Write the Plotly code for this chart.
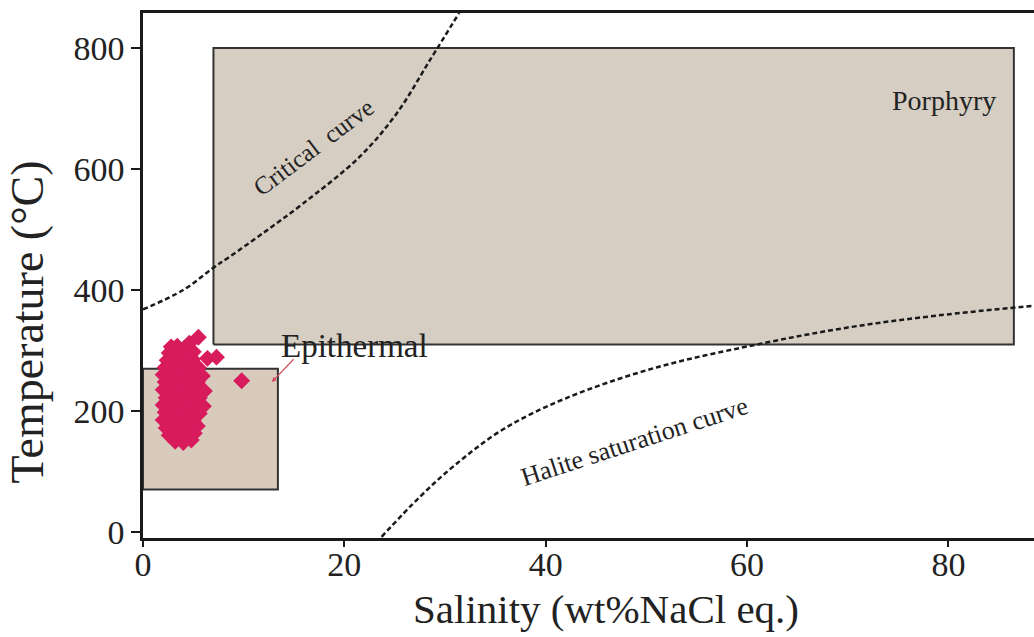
import plotly.graph_objects as go

# ---- data ----
porphyry_sal = [7.0, 86.5]
porphyry_temp = [310, 800]
epithermal_sal = [0.0, 13.4]
epithermal_temp = [70, 270]

critical_sal = [0, 4, 7, 8.6, 12, 15.9, 21.5, 25.2, 28.5, 31.4]
critical_temp = [368, 400, 437, 455, 495, 543, 620, 692, 780, 858]

halite_sal = [23.7, 27.5, 30.8, 35.7, 42.0, 51.0, 61.0, 70.0, 79.0, 88.5]
halite_temp = [-8, 58, 108, 169, 221, 272, 310, 338, 358, 374]

fi_sal = [3.2, 4.0, 4.8,
          2.6, 3.5, 4.3, 5.1,
          2.3, 3.0, 3.8, 4.6, 5.4,
          2.0, 2.8, 3.6, 4.4, 5.0,
          2.2, 3.0, 3.9, 4.7, 5.6,
          2.0, 2.7, 3.5, 4.3, 5.2, 6.0,
          2.3, 3.1, 3.9, 4.8, 5.6,
          2.0, 2.8, 3.6, 4.4, 5.3, 6.1,
          2.2, 3.0, 3.8, 4.6, 5.4,
          2.0, 2.7, 3.5, 4.3, 5.1, 5.9,
          2.2, 3.0, 3.8, 4.7, 5.5,
          2.4, 3.2, 4.0, 4.9, 6.4, 7.3,
          2.6, 3.4, 4.3, 5.0,
          2.8, 3.4, 4.2,
          4.6, 5.5,
          9.8]
fi_temp = [150, 148, 152,
           160, 162, 158, 163,
           172, 174, 170, 173, 175,
           185, 186, 184, 187, 183,
           198, 199, 197, 200, 196,
           210, 211, 209, 212, 210, 208,
           222, 223, 221, 224, 222,
           235, 236, 234, 237, 235, 233,
           248, 249, 247, 250, 248,
           260, 261, 259, 262, 260, 258,
           272, 273, 271, 274, 272,
           284, 285, 283, 286, 287, 289,
           296, 297, 295, 298,
           306, 307, 305,
           312, 322,
           250]

x_ticks = [0, 20, 40, 60, 80]
y_ticks = [0, 200, 400, 600, 800]

FONT = "Liberation Serif"

fig = go.Figure()


def box_trace(xs, ys, fill):
    return go.Scatter(
        x=[xs[0], xs[1], xs[1], xs[0], xs[0]],
        y=[ys[0], ys[0], ys[1], ys[1], ys[0]],
        mode="lines", fill="toself", fillcolor=fill,
        line=dict(color="#333333", width=2),
        hoverinfo="skip", showlegend=False)


fig.add_trace(box_trace(porphyry_sal, porphyry_temp, "#d6cec3"))
fig.add_trace(box_trace(epithermal_sal, epithermal_temp, "#d9cbbc"))

fig.add_trace(go.Scatter(x=critical_sal, y=critical_temp, mode="lines",
                         line=dict(color="#1a1a1a", width=2.5, dash="5px,3px", shape="spline"),
                         showlegend=False))
fig.add_trace(go.Scatter(x=halite_sal, y=halite_temp, mode="lines",
                         line=dict(color="#1a1a1a", width=2.5, dash="5px,3px", shape="spline"),
                         showlegend=False))

fig.add_trace(go.Scatter(x=fi_sal, y=fi_temp, mode="markers",
                         marker=dict(symbol="diamond", size=13, color="#d81b5c",
                                     line=dict(width=0)),
                         showlegend=False))

txt = dict(family=FONT, color="#222222")
fig.add_annotation(x=79.6, y=714, text="Porphyry", showarrow=False,
                   font=dict(size=28, **txt))
fig.add_annotation(x=16.9, y=636, text="Critical  curve", showarrow=False,
                   textangle=-37, font=dict(size=25, **txt))
fig.add_annotation(x=21.0, y=307, text="Epithermal", showarrow=False,
                   font=dict(size=33, **txt))
fig.add_annotation(x=48.8, y=150, text="Halite saturation curve", showarrow=False,
                   textangle=-18, font=dict(size=26, **txt))
fig.add_annotation(x=12.8, y=248, ax=15.1, ay=288, axref="x", ayref="y",
                   text="", showarrow=True, arrowhead=2, arrowsize=0.8,
                   arrowwidth=1.2, arrowcolor="#d04a5e")

# axis titles (placed as in the reference, slightly off-centre)
fig.add_annotation(xref="paper", yref="paper", x=0.5196, y=-0.136,
                   xanchor="center", yanchor="middle", showarrow=False,
                   text="Salinity (wt%NaCl eq.)", font=dict(size=41, **txt))
fig.add_annotation(xref="paper", yref="paper", x=-0.130, y=0.411,
                   xanchor="center", yanchor="middle", showarrow=False, textangle=-90,
                   text="Temperature (°C)", font=dict(size=46, **txt))

fig.update_layout(
    width=1034, height=637,
    margin=dict(l=143, r=0, t=13, b=99, autoexpand=False),
    paper_bgcolor="white", plot_bgcolor="white",
    font=dict(family=FONT, color="#222222"),
    showlegend=False,
)
fig.update_xaxes(range=[0, 88.5], tickvals=x_ticks, ticks="outside", ticklen=6,
                 tickwidth=2, tickcolor="#1a1a1a", ticklabelstandoff=-12,
                 showgrid=False, zeroline=False, automargin=False,
                 showline=True, linecolor="#1a1a1a", linewidth=2.5, mirror=True,
                 tickfont=dict(size=34, family=FONT))
fig.update_yaxes(range=[-10, 858], tickvals=y_ticks, ticks="outside", ticklen=9,
                 tickwidth=2, tickcolor="#1a1a1a",
                 showgrid=False, zeroline=False, automargin=False,
                 showline=True, linecolor="#1a1a1a", linewidth=2.5, mirror=False,
                 tickfont=dict(size=34, family=FONT))

fig.write_html("out.html", config={"displayModeBar": False},
               post_script="document.body.style.margin='0';")
